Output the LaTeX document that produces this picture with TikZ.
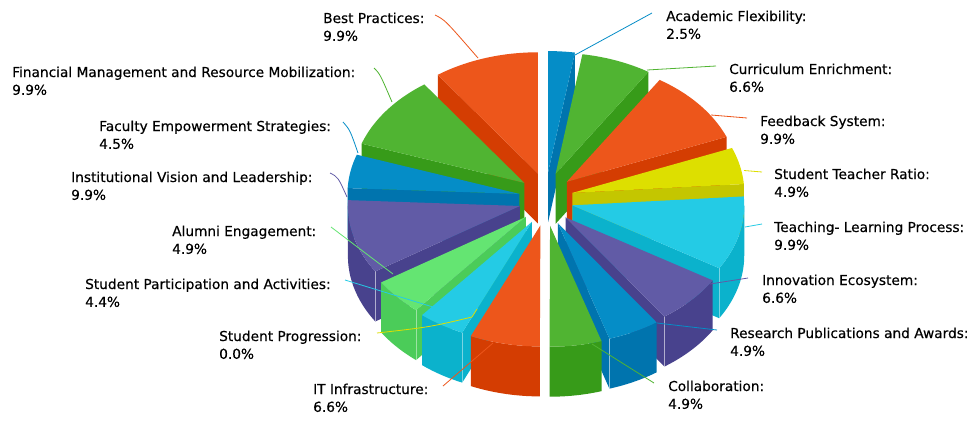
\documentclass[tikz,border=0pt]{standalone}
\usepackage{fontspec}
\setmainfont{DejaVu Sans}
\newfontfamily\lblfont[FakeBold=0.4]{DejaVu Sans}
\definecolor{cblue}{HTML}{058DC7}\definecolor{cblueS}{HTML}{0074AE}
\definecolor{cgreen}{HTML}{50B432}\definecolor{cgreenS}{HTML}{379B19}
\definecolor{corange}{HTML}{ED561B}\definecolor{corangeS}{HTML}{D43D02}
\definecolor{cyellow}{HTML}{DDDF00}\definecolor{cyellowS}{HTML}{C4C600}
\definecolor{ccyan}{HTML}{24CBE5}\definecolor{ccyanS}{HTML}{0BB2CC}
\definecolor{clgreen}{HTML}{64E572}\definecolor{clgreenS}{HTML}{4BCC59}
\definecolor{cpurple}{HTML}{615BA6}\definecolor{cpurpleS}{HTML}{48428D}
\newcommand{\pieslice}[4]{%
  \pgfmathsetmacro{\bb}{(#1+#2)/2}%
  \pgfmathsetmacro{\tx}{546+27*sin(\bb)}%
  \pgfmathsetmacro{\ty}{199-27*cos(\bb)}%
  \pgfmathtruncatemacro{\lefthalf}{sin(#1)<-0.01 ? 1 : 0}%
  \pgfmathtruncatemacro{\righthalf}{sin(#2)>0.01 ? 1 : 0}%
  \pgfmathsetmacro{\fa}{\lefthalf==1 ? #1 : #2}%
  \pgfmathtruncatemacro{\fv}{\lefthalf+\righthalf}%
  \ifnum\fv>0
    \fill[#4] (\tx,\ty) -- ({\tx+172*sin(\fa)},{\ty-121*cos(\fa)}) -- ({\tx+172*sin(\fa)},{\ty+50-121*cos(\fa)}) -- (\tx,{\ty+50}) -- cycle;
  \fi
  \pgfmathsetmacro{\sa}{max(#1,90)}%
  \pgfmathsetmacro{\sb}{min(#2,270)}%
  \pgfmathtruncatemacro{\sv}{\sa<\sb ? 1 : 0}%
  \ifnum\sv=1
    \fill[#4] plot[domain=\sa:\sb,samples=30] ({\tx+172*sin(\x)},{\ty-121*cos(\x)}) -- plot[domain=\sb:\sa,samples=30] ({\tx+172*sin(\x)},{\ty+50-121*cos(\x)}) -- cycle;
    \ifnum\fv>0
      \pgfmathtruncatemacro{\hv}{(\fa>90 && \fa<270) ? 1 : 0}%
      \ifnum\hv=1
        \draw[white,opacity=0.45,line width=0.7pt] ({\tx+172*sin(\fa)},{\ty-121*cos(\fa)}) -- ({\tx+172*sin(\fa)},{\ty+50-121*cos(\fa)});
      \fi
    \fi
  \fi
  \fill[#3] (\tx,\ty) -- plot[domain=#1:#2,samples=40] ({\tx+172*sin(\x)},{\ty-121*cos(\x)}) -- cycle;
}
\begin{document}
\begin{tikzpicture}[x=1pt,y=-1pt,
  lbl/.style={inner sep=0pt,anchor=base west,font=\lblfont\fontsize{13.7pt}{17.8pt}\selectfont,text=black},
  conn/.style={line width=0.8pt}]
\path[use as bounding box,fill=white] (0,0) rectangle (973,421);
% slices, back to front
\pieslice{0}{8.97}{cblue}{cblueS}
\pieslice{324.45}{360}{corange}{corangeS}
\pieslice{8.97}{32.66}{cgreen}{cgreenS}
\pieslice{32.66}{68.19}{corange}{corangeS}
\pieslice{288.92}{324.45}{cgreen}{cgreenS}
\pieslice{68.19}{85.78}{cyellow}{cyellowS}
\pieslice{272.77}{288.92}{cblue}{cblueS}
\pieslice{85.78}{121.31}{ccyan}{ccyanS}
\pieslice{237.24}{272.77}{cpurple}{cpurpleS}
\pieslice{219.65}{237.24}{clgreen}{clgreenS}
\pieslice{121.31}{145.0}{cpurple}{cpurpleS}
\pieslice{203.86}{219.65}{ccyan}{ccyanS}
\pieslice{145.0}{162.58}{cblue}{cblueS}
\pieslice{180.17}{203.86}{corange}{corangeS}
\pieslice{162.58}{180.17}{cgreen}{cgreenS}
% labels
\node[lbl] (l1) at (666,21) {Academic Flexibility:};
\node[lbl] (l1v) at (666,38.8) {2.5\%};
\node[lbl] (l2) at (729,74) {Curriculum Enrichment:};
\node[lbl] (l2v) at (729,91.8) {6.6\%};
\node[lbl] (l3) at (760,126) {Feedback System:};
\node[lbl] (l3v) at (760,143.8) {9.9\%};
\node[lbl] (l4) at (774,179) {Student Teacher Ratio:};
\node[lbl] (l4v) at (774,196.8) {4.9\%};
\node[lbl] (l5) at (774,232) {Teaching- Learning Process:};
\node[lbl] (l5v) at (774,249.8) {9.9\%};
\node[lbl] (l6) at (762,285) {Innovation Ecosystem:};
\node[lbl] (l6v) at (762,302.8) {6.6\%};
\node[lbl] (l7) at (730,338) {Research Publications and Awards:};
\node[lbl] (l7v) at (730,355.8) {4.9\%};
\node[lbl] (l8) at (668,391) {Collaboration:};
\node[lbl] (l8v) at (668,408.8) {4.9\%};
\node[lbl] (l9) at (313,394) {IT Infrastructure:};
\node[lbl] (l9v) at (313,411.8) {6.6\%};
\node[lbl] (l10) at (219,341) {Student Progression:};
\node[lbl] (l10v) at (219,358.8) {0.0\%};
\node[lbl] (l11) at (85,289) {Student Participation and Activities:};
\node[lbl] (l11v) at (85,306.8) {4.4\%};
\node[lbl] (l12) at (172,236) {Alumni Engagement:};
\node[lbl] (l12v) at (172,253.8) {4.9\%};
\node[lbl] (l13) at (71,182) {Institutional Vision and Leadership:};
\node[lbl] (l13v) at (71,199.8) {9.9\%};
\node[lbl] (l14) at (99,131) {Faculty Empowerment Strategies:};
\node[lbl] (l14v) at (99,148.8) {4.5\%};
\node[lbl] (l15) at (12,77) {Financial Management and Resource Mobilization:};
\node[lbl] (l15v) at (12,94.8) {9.9\%};
\node[lbl] (l16) at (323,23) {Best Practices:};
\node[lbl] (l16v) at (323,40.8) {9.9\%};
% connector end points
\coordinate (k1s) at (652,13);  \coordinate (k1e) at (575,55);
\coordinate (k2s) at (716,66);  \coordinate (k2e) at (647,70);
\coordinate (k3s) at (747,118); \coordinate (k3e) at (711,115);
\coordinate (k4s) at (762,172); \coordinate (k4e) at (744,170.5);
\coordinate (k5s) at (762,224); \coordinate (k5e) at (745,227);
\coordinate (k6s) at (748,278); \coordinate (k6e) at (710,284);
\coordinate (k7s) at (717,330); \coordinate (k7e) at (657,323);
\coordinate (k8s) at (654,383); \coordinate (k8e) at (592,344);
\coordinate (k9s) at (443,386); \coordinate (k9e) at (493,343);
\coordinate (k10s) at (377,333); \coordinate (k10m) at (472,317); \coordinate (k10e) at (477,309);
\coordinate (k11s) at (345,280); \coordinate (k11e) at (433,307);
\coordinate (k12s) at (331,227); \coordinate (k12e) at (393,274);
\coordinate (k13s) at (330,173); \coordinate (k13e) at (347,197);
\coordinate (k14s) at (343,122); \coordinate (k14e) at (358,153);
\coordinate (k15s) at (374,68);  \coordinate (k15e) at (392,102);
\coordinate (k16s) at (435,15);  \coordinate (k16e) at (478,58);
% connectors
\draw[conn,cblue] (k1s) -- (k1e);
\draw[conn,cgreen] (k2s) -- (k2e);
\draw[conn,corange] (k3s) -- (k3e);
\draw[conn,cyellow] (k4s) -- (k4e);
\draw[conn,ccyan] (k5s) -- (k5e);
\draw[conn,cpurple] (k6s) -- (k6e);
\draw[conn,cblue] (k7s) -- (k7e);
\draw[conn,cgreen] (k8s) -- (k8e);
\draw[conn,corange] (k9s) -- (k9e);
\draw[conn,cyellow] (k10s) .. controls (430,327) .. (k10m) -- (k10e);
\draw[conn,ccyan] (k11s) -- (k11e);
\draw[conn,clgreen] (k12s) -- (k12e);
\draw[conn,cpurple] (k13s) .. controls (338,177) .. (k13e);
\draw[conn,cblue] (k14s) .. controls (350,130) .. (k14e);
\draw[conn,cgreen] (k15s) .. controls (380,74) .. (k15e);
\draw[conn,corange] (k16s) .. controls (445,20) .. (k16e);
\end{tikzpicture}
\end{document}
